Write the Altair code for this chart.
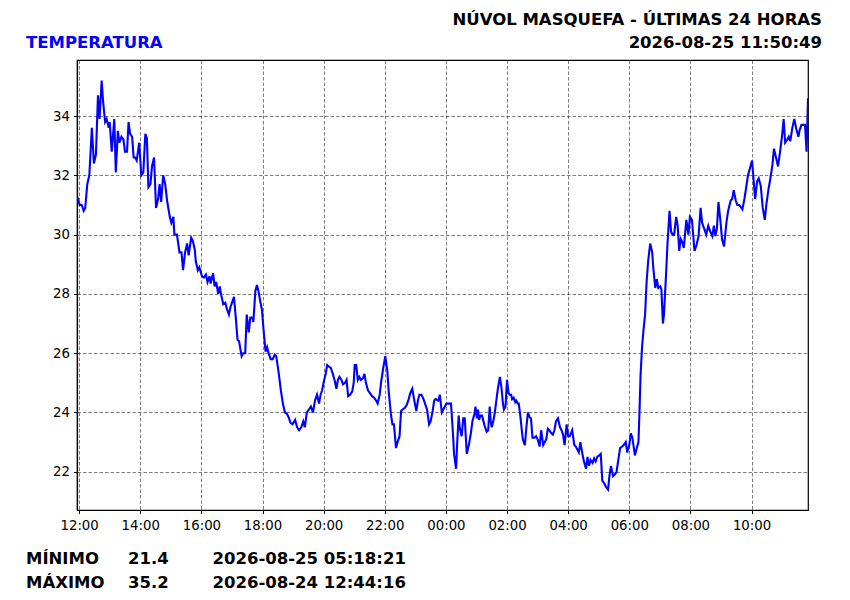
import altair as alt
import pandas as pd

# ---------------- text content ----------------
title_main = "NÚVOL MASQUEFA - ÚLTIMAS 24 HORAS"
title_stamp = "2026-08-25 11:50:49"
series_name = "TEMPERATURA"
stat_labels = ["MÍNIMO", "MÁXIMO"]
stat_values = ["21.4", "35.2"]
stat_times = ["2026-08-25 05:18:21", "2026-08-24 12:44:16"]
y_ticks = [22, 24, 26, 28, 30, 32, 34]
x_ticks = [
    "2026-08-24 12:00", "2026-08-24 14:00", "2026-08-24 16:00", "2026-08-24 18:00",
    "2026-08-24 20:00", "2026-08-24 22:00", "2026-08-25 00:00", "2026-08-25 02:00",
    "2026-08-25 04:00", "2026-08-25 06:00", "2026-08-25 08:00", "2026-08-25 10:00",
]

# ---------------- series ----------------
reference_time = "2026-08-24 12:00:00"
# minutes after reference_time
minutes = [
    -4.18, 1, 5, 9, 12, 16, 20, 25, 29, 33, 37, 40, 44.27, 47, 51, 54, 58, 60, 64, 69,
    72, 76, 79, 83, 87, 90, 94, 97, 100, 104, 107, 110, 113, 118, 122, 126, 130, 133, 136, 140,
    143, 147, 151, 155, 158, 161, 165, 169, 173, 178, 181, 185, 187, 192, 197, 201, 204, 208, 212, 215,
    220, 223, 227, 229, 233, 236, 241, 245, 249, 252, 256, 258, 263, 266, 269, 273, 276, 279, 283, 287,
    290, 294, 297, 300, 304, 308, 311, 314, 319, 322, 326, 329, 333, 336, 340, 342, 346, 349, 352, 355,
    359, 362, 366, 369, 372, 376, 380, 384, 387, 392, 396, 400, 404, 408, 411, 415, 419, 424, 428, 432,
    436, 440, 443, 447, 451, 455, 459, 463, 467, 471, 474, 477, 481, 484, 487, 490, 494, 498, 502, 505,
    508, 511, 515, 518, 522, 525, 528, 532, 536, 539, 541, 544, 547, 550, 553, 557, 560, 563, 567, 571,
    575, 579, 583, 586, 590, 593, 597, 601, 605, 608, 612, 615, 618, 622, 625, 629, 632, 635, 639, 643,
    647, 650, 654, 658, 662, 665, 668, 672, 676, 680, 683, 687, 690, 694, 697, 700, 705, 708, 712, 715,
    718, 721, 727, 730, 734, 736, 740, 742, 745, 747, 751, 754, 757, 761, 765, 769, 772, 776, 778, 781,
    783, 785, 788, 791, 793, 796, 800, 803, 806, 808, 810, 813, 816, 819, 822, 826, 829, 832, 834, 837,
    840, 843, 845, 848, 850, 853, 856, 858, 861, 863, 866, 869, 871, 875, 878, 881, 884, 887, 890, 894,
    897, 900, 904, 907, 911, 914, 917, 920, 923, 927, 930, 933, 936, 940, 944, 947, 950, 953, 957, 960,
    963, 968, 972, 975, 978, 981, 984, 988, 991, 995, 998, 1001, 1004, 1008, 1011, 1014, 1017, 1021, 1024, 1027,
    1031, 1034, 1038.35, 1041, 1044, 1048, 1051, 1055, 1058, 1062, 1066, 1069, 1073, 1076, 1080, 1083, 1086, 1089, 1091, 1094,
    1098, 1100, 1102, 1105, 1108, 1111, 1114, 1117, 1121, 1125, 1127, 1131, 1134, 1137, 1141, 1143, 1146, 1148, 1152, 1155,
    1159, 1162, 1165, 1168, 1172, 1175, 1178, 1181, 1184, 1187, 1192, 1196, 1199, 1203, 1208, 1212, 1216, 1220, 1223, 1227,
    1231, 1235, 1239, 1243, 1246, 1249, 1252, 1255, 1259, 1262, 1266, 1271, 1274, 1279, 1282, 1285, 1289, 1292, 1296, 1302,
    1306, 1310, 1313, 1317, 1321, 1324, 1327, 1331, 1334, 1338, 1342, 1346, 1349, 1353, 1357, 1361, 1364, 1368, 1372, 1376,
    1380, 1383, 1386, 1390, 1393, 1396, 1400, 1404, 1408, 1412, 1414, 1418, 1421, 1425, 1428, 1430.82,
]
temps = [
    31.3, 31.0, 31.0, 30.8, 30.9, 31.7, 32.0, 33.6, 32.4, 32.7, 34.7, 33.9, 35.2, 34.5, 33.8, 33.9, 33.6, 33.8, 32.8, 33.9,
    32.1, 33.5, 33.1, 33.3, 33.2, 32.8, 32.8, 33.8, 33.4, 33.3, 32.6, 32.6, 32.5, 33.1, 32.0, 32.1, 33.4, 33.25, 31.6, 31.7,
    32.3, 32.6, 30.9, 31.2, 31.7, 31.1, 32.0, 31.7, 31.1, 30.6, 30.4, 30.6, 30.0, 30.0, 29.4, 29.4, 28.8, 29.4, 29.7, 29.3,
    29.9, 29.8, 29.5, 29.1, 28.8, 28.9, 28.6, 28.55, 28.65, 28.4, 28.6, 28.35, 28.7, 28.25, 28.4, 28.0, 28.25, 27.95, 27.65, 27.7,
    27.5, 27.3, 27.55, 27.7, 27.9, 27.1, 26.45, 26.4, 25.9, 26.0, 26.0, 27.3, 26.7, 27.2, 27.2, 27.05, 28.1, 28.3, 28.1, 27.8,
    27.45, 26.8, 26.05, 26.2, 26.0, 25.8, 25.8, 25.95, 25.9, 25.3, 24.75, 24.3, 24.0, 23.95, 23.85, 23.65, 23.6, 23.75, 23.5, 23.4,
    23.5, 23.7, 23.5, 24.0, 24.1, 24.2, 24.0, 24.4, 24.6, 24.3, 24.6, 24.75, 25.1, 25.3, 25.6, 25.55, 25.5, 25.3, 25.05, 24.8,
    25.1, 25.2, 25.1, 24.95, 25.0, 25.1, 24.55, 24.6, 24.7, 25.0, 25.6, 25.6, 25.1, 25.2, 25.1, 25.15, 25.3, 25.0, 24.75, 24.65,
    24.55, 24.5, 24.4, 24.3, 24.6, 25.05, 25.5, 25.9, 25.4, 24.65, 23.95, 23.6, 23.6, 22.8, 23.0, 23.2, 24.05, 24.1, 24.15, 24.25,
    24.45, 24.65, 24.8, 24.4, 24.05, 24.4, 24.6, 24.6, 24.45, 24.25, 24.1, 23.6, 23.7, 24.05, 24.4, 24.45, 24.4, 24.6, 24.0, 24.1,
    24.2, 24.3, 24.3, 24.3, 23.25, 22.6, 22.1, 22.9, 23.9, 23.5, 23.2, 23.8, 23.8, 22.6, 22.9, 23.3, 23.7, 23.95, 24.2, 23.8,
    24.1, 23.75, 23.9, 23.9, 23.75, 23.55, 23.35, 23.4, 24.2, 23.7, 23.5, 23.7, 24.0, 24.4, 24.8, 25.2, 24.85, 24.3, 24.1, 24.2,
    25.1, 24.65, 24.6, 24.6, 24.45, 24.5, 24.35, 24.4, 24.3, 24.3, 23.9, 23.4, 23.1, 22.9, 23.5, 24.0, 23.85, 23.8, 23.15, 23.15,
    23.2, 23.1, 22.85, 23.4, 22.9, 23.0, 23.1, 23.45, 23.4, 23.3, 23.25, 23.4, 23.7, 23.8, 23.5, 23.4, 23.25, 22.9, 23.6, 23.2,
    23.2, 23.4, 22.9, 22.85, 22.75, 22.65, 23.0, 22.6, 22.35, 22.1, 22.5, 22.2, 22.4, 22.3, 22.45, 22.35, 22.5, 22.55, 22.6, 21.7,
    21.6, 21.5, 21.4, 21.85, 22.2, 21.85, 21.9, 22.0, 22.35, 22.8, 22.85, 22.9, 23.0, 22.65, 22.9, 23.3, 23.15, 22.8, 22.55, 22.75,
    23.0, 24.0, 25.2, 26.2, 26.8, 27.3, 28.4, 29.1, 29.7, 29.4, 28.9, 28.2, 28.5, 28.2, 28.25, 28.15, 27.0, 27.3, 28.6, 29.7,
    30.8, 30.1, 30.0, 30.0, 30.6, 30.3, 29.45, 29.85, 29.75, 29.55, 30.5, 30.0, 30.6, 30.5, 29.45, 29.65, 29.95, 30.9, 30.4, 30.2,
    30.0, 30.3, 30.1, 29.95, 30.3, 29.95, 30.2, 31.1, 30.45, 29.85, 29.6, 30.45, 30.8, 31.15, 31.2, 31.5, 31.15, 31.0, 31.0, 30.85,
    31.2, 31.65, 32.0, 32.25, 32.5, 31.85, 31.2, 31.8, 31.9, 31.65, 30.9, 30.5, 31.0, 31.5, 31.9, 32.35, 32.9, 32.6, 32.3, 32.8,
    33.35, 33.9, 33.1, 33.2, 33.3, 33.15, 33.6, 33.9, 33.55, 33.3, 33.5, 33.7, 33.7, 33.7, 32.8, 34.6,
]

n = min(len(minutes), len(temps))
stamps = pd.Timestamp(reference_time) + pd.to_timedelta(minutes[:n], unit="m")
df = pd.DataFrame({
    "time": [s.strftime("%Y-%m-%dT%H:%M:%S") for s in stamps.round("s")],
    "temp": temps[:n],
})


def to_dt(s):
    t = pd.Timestamp(s)
    return alt.DateTime(year=t.year, month=t.month, date=t.day, hours=t.hour, minutes=t.minute)


FONT = "DejaVu Sans"
W, H = 731, 450

line = alt.Chart(df).mark_line(color="#0000ff", strokeWidth=2.1, clip=True).encode(
    x=alt.X(
        "time:T",
        scale=alt.Scale(nice=False),
        axis=alt.Axis(
            title=None,
            format="%H:%M",
            values=[to_dt(s) for s in x_ticks],
            labelFlush=False,
            labelOverlap=False,
        ),
    ),
    y=alt.Y(
        "temp:Q",
        scale=alt.Scale(domain=[20.71, 35.89], nice=False, zero=False),
        axis=alt.Axis(title=None, values=y_ticks, format="d"),
    ),
)


def text_layer(txt, x, y, align="left", color="black"):
    return alt.Chart(pd.DataFrame({"t": [txt]})).mark_text(
        align=align,
        baseline="alphabetic",
        font=FONT,
        fontSize=16.5,
        fontWeight="bold",
        color=color,
    ).encode(text="t:N", x=alt.value(x), y=alt.value(y))


layers = [
    line,
    text_layer(title_main, 745, -35, align="right"),
    text_layer(title_stamp, 745, -12, align="right"),
    text_layer(series_name, -51, -12, color="#0000ff"),
]
row_y = [504, 527.5]
for i in range(2):
    layers.append(text_layer(stat_labels[i], -51, row_y[i]))
    layers.append(text_layer(stat_values[i], 51, row_y[i]))
    layers.append(text_layer(stat_times[i], 135.5, row_y[i]))

chart = (
    alt.layer(*layers)
    .properties(
        width=W,
        height=H,
        background="white",
        autosize=alt.AutoSizeParams(type="none"),
        padding={"left": 69, "top": 52, "right": 34, "bottom": 82},
    )
    .configure_view(stroke="black", strokeWidth=1.2)
    .configure_axis(
        grid=True,
        gridColor="#000000",
        gridWidth=0.6,
        gridOpacity=0.85,
        gridDash=[3.5, 2],
        domain=True,
        domainColor="black",
        domainWidth=1.2,
        ticks=True,
        tickColor="black",
        tickSize=3.5,
        tickWidth=1,
        labelFont=FONT,
        labelFontSize=13.3,
        labelColor="black",
    )
    .configure_axisX(labelPadding=5)
    .configure_axisY(labelPadding=4)
)

chart.save("out.html", embed_options={"renderer": "svg", "actions": False})
